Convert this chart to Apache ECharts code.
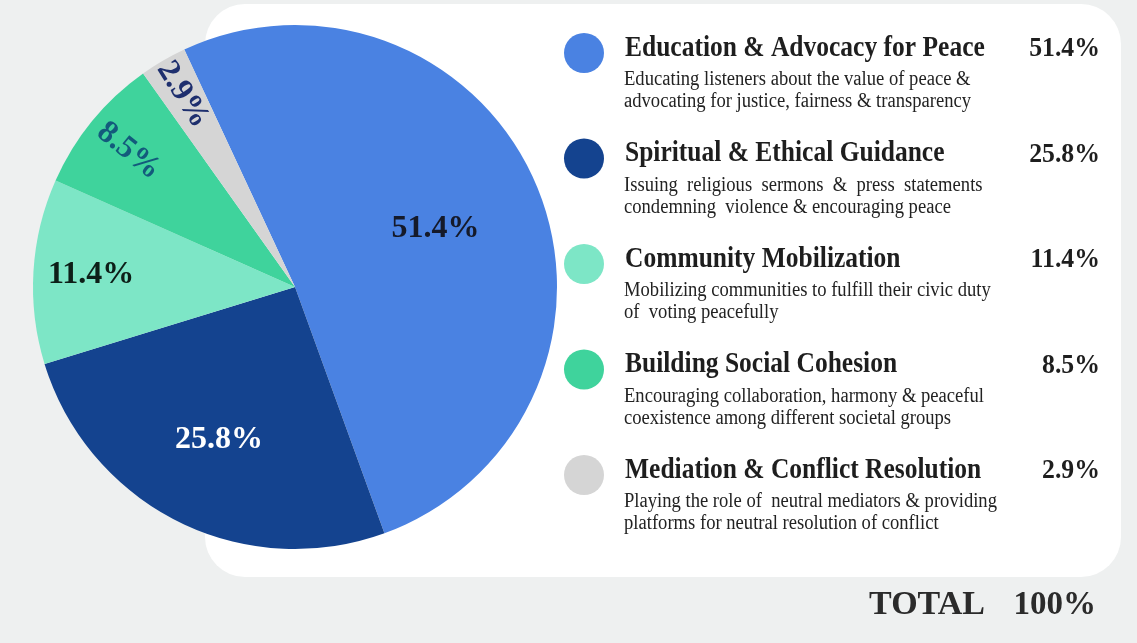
<!DOCTYPE html>
<html>
<head>
<meta charset="utf-8">
<script src="https://cdn.jsdelivr.net/npm/echarts@6/dist/echarts.min.js"></script>
<style>
  html, body { margin: 0; padding: 0; background: #eef0f0; }
  #chart { width: 1137px; height: 643px; }
</style>
</head>
<body>
<div id="chart"></div>
<script>
// ---- data ----
var categories = [
  'Education & Advocacy for Peace',
  'Spiritual & Ethical Guidance',
  'Community Mobilization',
  'Building Social Cohesion',
  'Mediation & Conflict Resolution'
];
var values = [51.4, 25.8, 11.4, 8.5, 2.9];
var descriptions = [
  ['Educating listeners about the value of peace &', 'advocating for justice, fairness & transparency'],
  ['Issuing  religious  sermons  &  press  statements', 'condemning  violence & encouraging peace'],
  ['Mobilizing communities to fulfill their civic duty', 'of  voting peacefully'],
  ['Encouraging collaboration, harmony & peaceful', 'coexistence among different societal groups'],
  ['Playing the role of  neutral mediators & providing', 'platforms for neutral resolution of conflict']
];
var totalLabel = 'TOTAL';
var totalValue = '100%';

// ---- style ----
var colors = ['#4a82e2', '#14438f', '#7de6c6', '#3fd39c', '#d5d5d5'];
var labelColors = ['#151a2a', '#ffffff', '#0d1f18', '#135a7c', '#1e2f6e'];
var labelRadiusFrac = [0.58, 0.65, 0.78, 0.82, 0.85];
var labelRotate = [0, 0, 0, -39, -58];
var serif = '"Liberation Serif", "Times New Roman", serif';

var cx = 295, cy = 287, R = 262, startAngle = 115;
var total = values.reduce(function (a, b) { return a + b; }, 0);

function fmt(v) { return v.toFixed(1) + '%'; }

var chart = echarts.init(document.getElementById('chart'), null, { renderer: 'canvas' });

var graphics = [{
  type: 'rect', z: 0,
  shape: { x: 205, y: 4, width: 916, height: 573, r: 40 },
  style: { fill: '#ffffff' }
}];

var rowY0 = 53, rowStep = 105.5;
categories.forEach(function (name, i) {
  var y = rowY0 + i * rowStep;
  graphics.push({
    type: 'circle', z: 10,
    shape: { cx: 584, cy: y, r: 20 },
    style: { fill: colors[i] }
  });
  graphics.push({
    type: 'text', z: 10, x: 625, y: y - 5, scaleX: 0.85,
    style: { text: name, font: 'bold 30px ' + serif, fill: '#1e1e1e',
             textAlign: 'left', textVerticalAlign: 'middle' }
  });
  graphics.push({
    type: 'text', z: 10, x: 1100, y: y - 4, scaleX: 0.92,
    style: { text: fmt(values[i]), font: 'bold 28px ' + serif, fill: '#1e1e1e',
             textAlign: 'right', textVerticalAlign: 'middle' }
  });
  descriptions[i].forEach(function (line, k) {
    graphics.push({
      type: 'text', z: 10, x: 624, y: y + 27 + k * 22, scaleX: 0.93,
      style: { text: line, font: '20px ' + serif, fill: '#222222',
               textAlign: 'left', textVerticalAlign: 'middle' }
    });
  });
});
graphics.push({
  type: 'text', z: 10, x: 985, y: 605,
  style: { text: totalLabel, font: 'bold 34px ' + serif, fill: '#2b2b2b',
           textAlign: 'right', textVerticalAlign: 'middle' }
});
graphics.push({
  type: 'text', z: 10, x: 1096, y: 605,
  style: { text: totalValue, font: 'bold 33px ' + serif, fill: '#2b2b2b',
           textAlign: 'right', textVerticalAlign: 'middle' }
});

var pieData = categories.map(function (name, i) {
  return {
    name: name,
    value: values[i],
    itemStyle: { color: colors[i] },
    label: { color: labelColors[i], rotate: labelRotate[i] }
  };
});

chart.setOption({
  backgroundColor: '#eef0f0',
  animation: false,
  graphic: graphics,
  series: [{
    type: 'pie',
    z: 5,
    center: [cx, cy],
    radius: R,
    startAngle: startAngle,
    clockwise: true,
    avoidLabelOverlap: false,
    emphasis: { disabled: true },
    itemStyle: { borderWidth: 0 },
    label: {
      show: true,
      position: 'inside',
      formatter: function (p) { return fmt(p.value); },
      fontFamily: serif,
      fontWeight: 'bold',
      fontSize: 32
    },
    labelLine: { show: false },
    labelLayout: function (p) {
      var i = p.dataIndex;
      var before = 0;
      for (var k = 0; k < i; k++) before += values[k];
      var mid = before + values[i] / 2;
      var a = ((90 - startAngle) + mid / total * 360) * Math.PI / 180;
      var r = R * labelRadiusFrac[i];
      return { x: cx + r * Math.sin(a), y: cy - r * Math.cos(a) };
    },
    data: pieData
  }]
});
</script>
</body>
</html>
